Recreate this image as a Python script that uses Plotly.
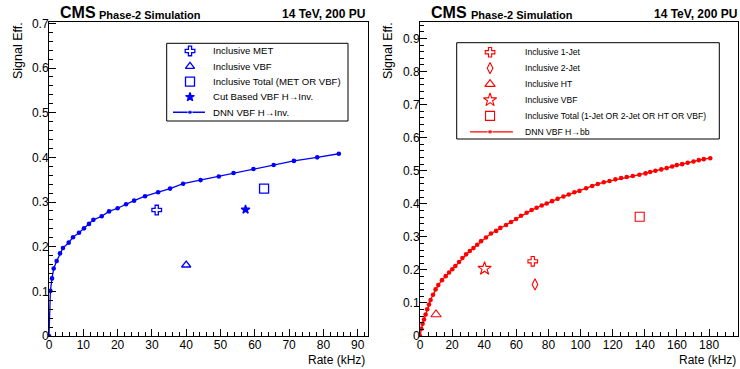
import plotly.graph_objects as go

# ---------------- data ----------------
# Left panel: VBF H->Inv.
dnn_inv_rate = [0, 0.41, 0.87, 1.37, 2.24, 3.21, 4.08, 5.74, 7.0, 8.75, 10.2, 11.66, 12.94,
                15.36, 17.5, 20.0, 22.45, 24.8, 28.0, 31.8, 35.3, 39.1, 44.2, 49.5, 53.8,
                59.6, 65.5, 71.4, 78.2, 84.5]
dnn_inv_eff = [0, 0.101, 0.129, 0.151, 0.168, 0.185, 0.197, 0.209, 0.221, 0.231, 0.241,
               0.251, 0.260, 0.268, 0.279, 0.286, 0.295, 0.303, 0.313, 0.322, 0.330, 0.341,
               0.349, 0.357, 0.365, 0.374, 0.383, 0.392, 0.400, 0.408]
inv_labels = ["Inclusive MET", "Inclusive VBF", "Inclusive Total (MET OR VBF)", "Cut Based VBF H\u2192Inv."]
inv_rate = [31.4, 40.0, 62.7, 57.3]
inv_eff = [0.282, 0.159, 0.330, 0.283]
inv_dnn_label = "DNN VBF H\u2192Inv."

# Right panel: VBF H->bb
dnn_bb_rate = [0, 0.8, 1.6, 2.5, 3.5, 4.5, 5.6, 6.6, 8.1, 9.7, 11.4, 13.7, 16.0, 18.1, 20.1,
               22.0, 24.3, 26.4, 28.7, 31.0, 33.3, 35.6, 38.0, 41.1, 44.2, 47.4, 50.0, 53.6,
               56.7, 59.8, 62.9, 66.4, 69.5, 72.6, 75.8, 78.9, 82.2, 85.7, 89.3, 92.6, 96.1,
               99.3, 103.4, 107.2, 110.7, 114.4, 118.0, 121.7, 125.2, 128.7, 132.5, 136.6,
               140.4, 143.3, 146.6, 150.2, 153.6, 157.0, 159.9, 163.2, 166.7, 170.3, 173.6,
               176.7, 180.7]
dnn_bb_eff = [0.0, 0.022, 0.037, 0.05, 0.065, 0.081, 0.095, 0.109, 0.125, 0.141, 0.154, 0.169,
              0.181, 0.192, 0.202, 0.212, 0.224, 0.236, 0.247, 0.257, 0.266, 0.276, 0.287,
              0.298, 0.310, 0.318, 0.327, 0.336, 0.345, 0.354, 0.364, 0.373, 0.381, 0.388,
              0.395, 0.401, 0.408, 0.415, 0.422, 0.428, 0.435, 0.439, 0.447, 0.454, 0.460,
              0.465, 0.469, 0.474, 0.478, 0.481, 0.484, 0.488, 0.492, 0.496, 0.500, 0.504,
              0.508, 0.513, 0.517, 0.520, 0.524, 0.528, 0.532, 0.535, 0.538]
bb_labels = ["Inclusive 1-Jet", "Inclusive 2-Jet", "Inclusive HT", "Inclusive VBF",
             "Inclusive Total (1-Jet OR 2-Jet OR HT OR VBF)"]
bb_rate = [70.2, 71.6, 10.0, 40.2, 136.8]
bb_eff = [0.226, 0.156, 0.065, 0.204, 0.361]
bb_dnn_label = "DNN VBF H\u2192bb"

# ---------------- style / layout ----------------
W, H = 740, 369
FONT = "Liberation Sans, Arial, Helvetica, sans-serif"
BLUE = "#0000ff"
RED = "#ff0000"


def px_x(p):
    return p / W


def px_y(p):
    return 1 - p / H


panels = [
    dict(color=BLUE, rate=dnn_inv_rate, eff=dnn_inv_eff, dnn_label=inv_dnn_label,
         labels=inv_labels, mrate=inv_rate, meff=inv_eff,
         symbols=["cross-open", "triangle-up-open", "square-open", "star"],
         sizes=[8, 8, 9, 6.5], mlw=1.3,
         xa="x", ya="y", lxa="x3", lya="y3",
         legbox=(166.7, 43.3, 348, 121), legrows=(-0.5, 4.57), legfont=9.6,
         key_x=0.1285, text_x=0.244, line_x=(0.035, 0.211)),
    dict(color=RED, rate=dnn_bb_rate, eff=dnn_bb_eff, dnn_label=bb_dnn_label,
         labels=bb_labels, mrate=bb_rate, meff=bb_eff,
         symbols=["cross-open", "diamond-tall-open", "triangle-up-open", "star-open", "square-open"],
         sizes=[8, 8, 9, 10, 9], mlw=1.1,
         xa="x2", ya="y2", lxa="x4", lya="y4",
         legbox=(456.7, 42.7, 719.3, 139), legrows=(-0.6, 5.45), legfont=8.6,
         key_x=0.127, text_x=0.251, line_x=(0.051, 0.214)),
]

fig = go.Figure()
shapes = []
annotations = []

for p in panels:
    c = p["color"]
    # data marks
    fig.add_trace(go.Scatter(
        x=p["rate"], y=p["eff"], mode="lines+markers", showlegend=False,
        line=dict(color=c, width=1.3), marker=dict(color=c, size=4.6),
        xaxis=p["xa"], yaxis=p["ya"]))
    for i, (xr, ye) in enumerate(zip(p["mrate"], p["meff"])):
        fig.add_trace(go.Scatter(
            x=[xr], y=[ye], mode="markers", showlegend=False,
            marker=dict(symbol=p["symbols"][i], size=p["sizes"][i], color=c,
                        line=dict(color=c, width=p["mlw"])),
            xaxis=p["xa"], yaxis=p["ya"]))

    # legend (drawn on its own auxiliary axes, one row per entry)
    x0, y0, x1, y1 = p["legbox"]
    shapes.append(dict(type="rect", xref="paper", yref="paper",
                       x0=px_x(x0), x1=px_x(x1), y0=px_y(y1), y1=px_y(y0),
                       line=dict(color="black", width=1), fillcolor="white", layer="below"))
    rows = list(range(len(p["labels"]) + 1))
    for i, lab in enumerate(p["labels"]):
        fig.add_trace(go.Scatter(
            x=[p["key_x"]], y=[rows[i]], mode="markers", showlegend=False, hoverinfo="skip",
            marker=dict(symbol=p["symbols"][i], size=p["sizes"][i], color=c,
                        line=dict(color=c, width=p["mlw"])),
            xaxis=p["lxa"], yaxis=p["lya"]))
        annotations.append(dict(text=lab, x=p["text_x"], y=rows[i], xref=p["lxa"], yref=p["lya"],
                                xanchor="left", yanchor="middle", showarrow=False,
                                font=dict(family=FONT, size=p["legfont"], color="black")))
    r = rows[-1]
    fig.add_trace(go.Scatter(
        x=[p["line_x"][0], p["key_x"], p["line_x"][1]], y=[r, r, r], mode="lines+markers",
        showlegend=False, hoverinfo="skip",
        line=dict(color=c, width=1.3), marker=dict(color=c, size=[0, 4.6, 0]),
        xaxis=p["lxa"], yaxis=p["lya"]))
    annotations.append(dict(text=p["dnn_label"], x=p["text_x"], y=r, xref=p["lxa"], yref=p["lya"],
                            xanchor="left", yanchor="middle", showarrow=False,
                            font=dict(family=FONT, size=p["legfont"], color="black")))

axis_common = dict(
    showline=True, linecolor="black", linewidth=1, mirror=True, automargin=False,
    showgrid=False, zeroline=False, ticks="inside", tickcolor="black",
    ticklen=7, tickwidth=1, tickfont=dict(family=FONT, size=12, color="black"),
)
minor_common = dict(ticks="inside", ticklen=4, tickcolor="black", tickwidth=1, showgrid=False)
hidden = dict(visible=False, showgrid=False, zeroline=False, fixedrange=True, automargin=False)

ydom = [px_y(336), px_y(22)]
lp, rp = panels

fig.update_layout(
    template="none",
    width=W, height=H,
    margin=dict(l=0, r=0, t=0, b=0, pad=0, autoexpand=False),
    paper_bgcolor="white", plot_bgcolor="rgba(0,0,0,0)",
    font=dict(family=FONT, color="black"),
    showlegend=False,
    hovermode=False,
    xaxis=dict(domain=[px_x(49), px_x(368)], range=[0, 93], dtick=10, tick0=0,
               minor=dict(dtick=2, **minor_common), anchor="y", ticklabelstandoff=-2,
               **axis_common),
    yaxis=dict(domain=ydom, range=[0, 0.703], dtick=0.1, tick0=0,
               minor=dict(dtick=0.02, **minor_common), anchor="x", ticklabelstandoff=-3,
               **axis_common),
    xaxis2=dict(domain=[px_x(420), px_x(738)], range=[0, 198], dtick=20, tick0=0,
                minor=dict(dtick=5, **minor_common), anchor="y2", ticklabelstandoff=-2,
                **axis_common),
    yaxis2=dict(domain=ydom, range=[0, 0.95], dtick=0.1, tick0=0,
                minor=dict(dtick=0.02, **minor_common), anchor="x2", ticklabelstandoff=-3,
                **axis_common),
    xaxis3=dict(domain=[px_x(lp["legbox"][0]), px_x(lp["legbox"][2])], range=[0, 1],
                anchor="y3", **hidden),
    yaxis3=dict(domain=[px_y(lp["legbox"][3]), px_y(lp["legbox"][1])],
                range=[lp["legrows"][1], lp["legrows"][0]], anchor="x3", **hidden),
    xaxis4=dict(domain=[px_x(rp["legbox"][0]), px_x(rp["legbox"][2])], range=[0, 1],
                anchor="y4", **hidden),
    yaxis4=dict(domain=[px_y(rp["legbox"][3]), px_y(rp["legbox"][1])],
                range=[rp["legrows"][1], rp["legrows"][0]], anchor="x4", **hidden),
)

for (cms_x, phase_x, right_x, ytitle_x, rate_x) in [(58, 96.7, 367, 18.5, 366.5),
                                                    (429.3, 469, 738.5, 388.5, 738)]:
    annotations += [
        dict(text="<b>CMS</b>", x=px_x(cms_x), y=px_y(13), xref="paper", yref="paper",
             xanchor="left", yanchor="middle", showarrow=False,
             font=dict(family=FONT, size=16, color="black")),
        dict(text="<b>Phase-2 Simulation</b>", x=px_x(phase_x), y=px_y(14.5), xref="paper",
             yref="paper", xanchor="left", yanchor="middle", showarrow=False,
             font=dict(family=FONT, size=11, color="black")),
        dict(text="<b>14 TeV, 200 PU</b>", x=px_x(right_x), y=px_y(14.2), xref="paper",
             yref="paper", xanchor="right", yanchor="middle", showarrow=False,
             font=dict(family=FONT, size=12, color="black")),
        dict(text="Signal Eff.", x=px_x(ytitle_x), y=px_y(20), xref="paper", yref="paper",
             xanchor="center", yanchor="top", textangle=-90, showarrow=False,
             font=dict(family=FONT, size=12.5, color="black")),
        dict(text="Rate (kHz)", x=px_x(rate_x), y=px_y(359.5), xref="paper", yref="paper",
             xanchor="right", yanchor="middle", showarrow=False,
             font=dict(family=FONT, size=12, color="black")),
    ]
fig.update_layout(annotations=annotations, shapes=shapes)

fig.write_html("out.html",
               config={"displayModeBar": False, "staticPlot": True},
               post_script="document.body.style.margin='0px';document.body.style.overflow='hidden';")
